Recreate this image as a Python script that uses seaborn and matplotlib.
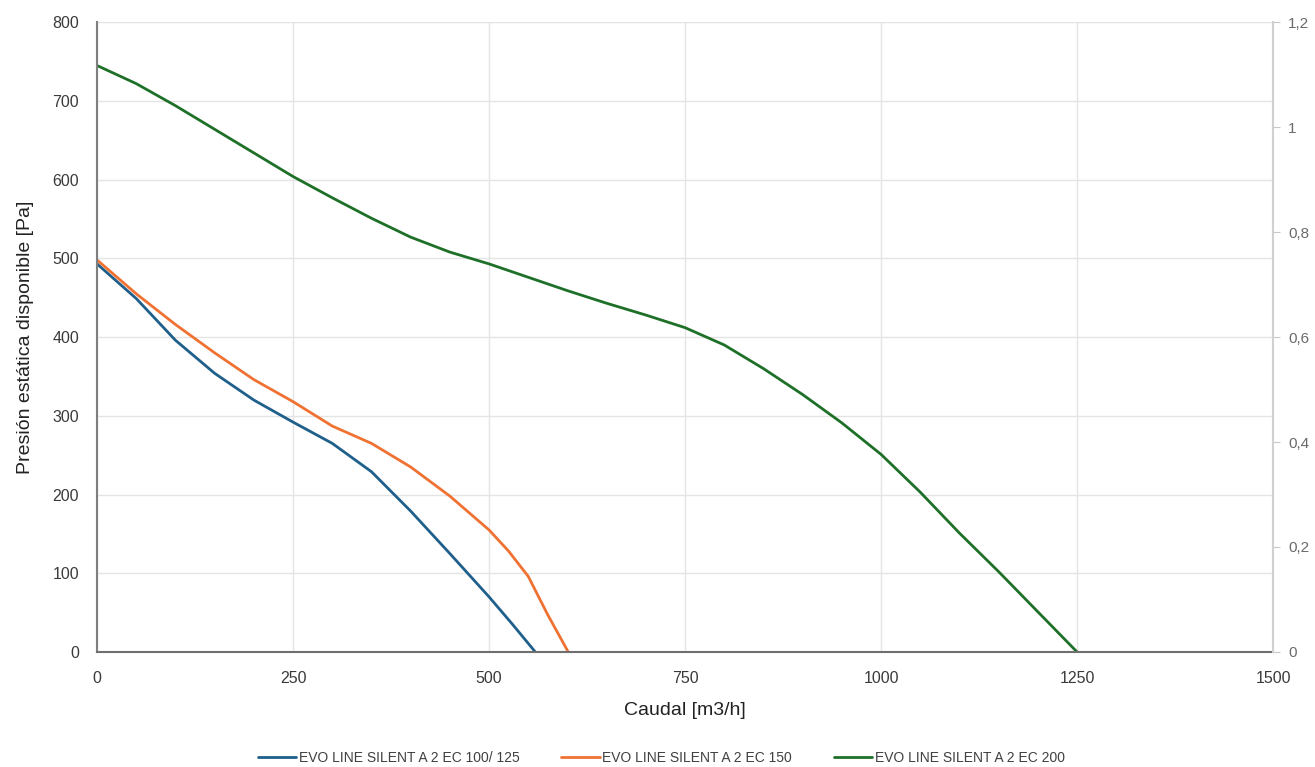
import pandas as pd
import seaborn as sns
import matplotlib.pyplot as plt
from matplotlib.ticker import FixedLocator, FuncFormatter

# Curve readings (caudal m3/h -> presion Pa)
q_100 = [0, 50, 100, 150, 200, 250, 300, 350, 400, 450, 500, 530, 559]
p_100 = [493, 449, 396, 354, 320, 292, 265, 229, 179, 125, 70, 35, 0]

q_150 = [0, 50, 100, 150, 200, 250, 300, 350, 400, 450, 500, 525, 550, 575, 601]
p_150 = [498, 455, 416, 380, 346, 318, 287, 265, 235, 198, 155, 128, 96, 47, 0]

q_200 = [0, 50, 100, 150, 200, 250, 300, 350, 400, 450, 500, 550, 600, 650,
         700, 750, 800, 850, 900, 950, 1000, 1050, 1100, 1150, 1200, 1250]
p_200 = [745, 722, 694, 664, 634, 604, 577, 551, 527, 508, 493, 476, 459, 443,
         428, 412, 390, 360, 327, 291, 251, 203, 151, 102, 51, 0]

names = ["EVO LINE SILENT A 2 EC 100/ 125",
         "EVO LINE SILENT A 2 EC 150",
         "EVO LINE SILENT A 2 EC 200"]
colors = ["#1f5f8b", "#f07233", "#1e7028"]

x_ticks = [0, 250, 500, 750, 1000, 1250, 1500]
y_ticks = [0, 100, 200, 300, 400, 500, 600, 700, 800]
y2_ticks = [0, 0.2, 0.4, 0.6, 0.8, 1.0, 1.2]

df = pd.concat([
    pd.DataFrame({"Caudal": q_100, "Presion": p_100, "Modelo": names[0]}),
    pd.DataFrame({"Caudal": q_150, "Presion": p_150, "Modelo": names[1]}),
    pd.DataFrame({"Caudal": q_200, "Presion": p_200, "Modelo": names[2]}),
])

sns.set_style("white")
plt.rcParams["font.family"] = ["Liberation Sans", "DejaVu Sans"]

fig = plt.figure(figsize=(13.15, 7.67), dpi=100)
ax = fig.add_axes([0.0738, 0.15, 0.8943, 0.821])

sns.lineplot(data=df, x="Caudal", y="Presion", hue="Modelo", palette=colors,
             linewidth=2.0, ax=ax, sort=False, estimator=None, legend=True)

ax.set_xlim(0, 1500)
ax.set_ylim(0, 800)
ax.xaxis.set_major_locator(FixedLocator(x_ticks))
ax.yaxis.set_major_locator(FixedLocator(y_ticks))
ax.grid(True, color="#e4e4e4", linewidth=1.0)
ax.set_axisbelow(True)

for s in ["top", "right"]:
    ax.spines[s].set_visible(False)
ax.spines["left"].set_color("#7f7f7f")
ax.spines["bottom"].set_color("#6f6f6f")
ax.spines["left"].set_linewidth(1.5)
ax.spines["bottom"].set_linewidth(1.5)

ax.tick_params(axis="both", length=0, labelsize=11.5, labelcolor="#3a3a3a")
ax.tick_params(axis="x", pad=14)
ax.tick_params(axis="y", pad=13)
ax.set_xlabel("Caudal [m3/h]", fontsize=14, color="#222222", labelpad=11)
ax.set_ylabel("Presión estática disponible [Pa]", fontsize=14, color="#222222", labelpad=13)

ax2 = ax.twinx()
ax2.set_ylim(0, 1.2)
ax2.yaxis.set_major_locator(FixedLocator(y2_ticks))
ax2.yaxis.set_major_formatter(FuncFormatter(lambda v, p: f"{v:g}".replace(".", ",")))
for s in ["top", "left", "bottom"]:
    ax2.spines[s].set_visible(False)
ax2.spines["right"].set_color("#d0d0d0")
ax2.spines["right"].set_linewidth(1.5)
ax2.tick_params(axis="y", length=5, color="#c8c8c8", labelsize=11, labelcolor="#6a6a6a", pad=6)

# legend centred on the figure, below the axis title
handles, labels = ax.get_legend_handles_labels()
ax.get_legend().remove()
leg = fig.legend(handles, labels, loc="center", bbox_to_anchor=(0.503, 0.012), ncol=3,
                 frameon=False, fontsize=10, handlelength=2.75, columnspacing=3.0,
                 handletextpad=0.2)
for t in leg.get_texts():
    t.set_color("#404040")

fig.savefig("out.png", dpi=100)
